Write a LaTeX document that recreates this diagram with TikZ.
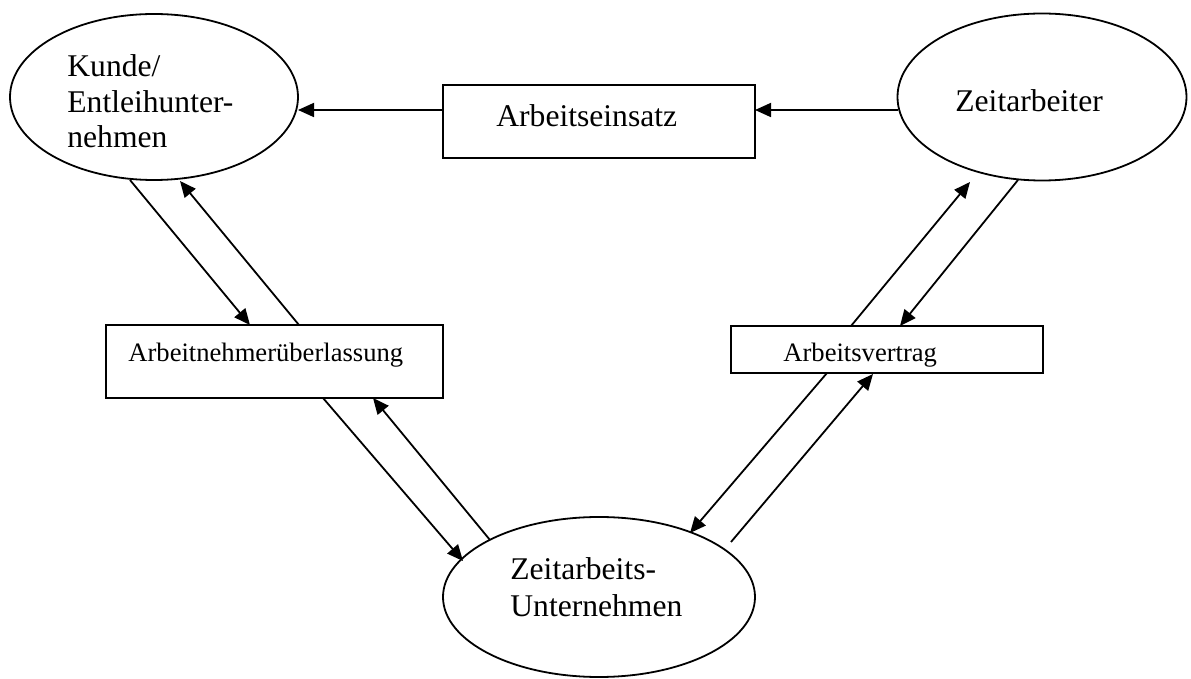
\documentclass[tikz,border=0pt]{standalone}
\usepackage{fontspec}
\setmainfont{Liberation Serif}
\usetikzlibrary{arrows.meta,shapes.geometric}
\begin{document}
\begin{tikzpicture}[x=0.5pt,y=-0.5pt,
  shape border/.style={draw=black,line width=0.9pt,inner sep=0pt},
  oval/.style={shape border,ellipse},
  boxnode/.style={shape border,rectangle},
  bigtext/.style={inner sep=0pt,anchor=base west,font=\fontsize{15.8}{17.75}\selectfont},
  smalltext/.style={inner sep=0pt,anchor=base west,font=\fontsize{13.3}{15}\selectfont},
  conn/.style={line width=0.9pt,-{Triangle[length=8pt,width=7pt]}}]
\useasboundingbox (0,0) rectangle (1191,679);
% ellipses
\node[oval,minimum width=144pt,minimum height=83pt] (kunde) at (154,97) {};
\node[oval,minimum width=144.5pt,minimum height=83.5pt] (zeit) at (1042,97) {};
\node[oval,minimum width=156pt,minimum height=80pt] (zu) at (599,597) {};
% boxes
\node[boxnode,minimum width=156pt,minimum height=36.5pt] (einsatz) at (599,121.5) {};
\node[boxnode,minimum width=168.5pt,minimum height=36.5pt] (anue) at (274.5,361.5) {};
\node[boxnode,minimum width=156pt,minimum height=23.5pt] (av) at (887,349.5) {};
% texts
\node[bigtext] (tk1) at (67,77) {Kunde/};
\node[bigtext] (tk2) at (67,113) {Entleihunter-};
\node[bigtext] (tk3) at (67,148) {nehmen};
\node[bigtext] (tz) at (955,112) {Zeitarbeiter};
\node[bigtext] (tzu1) at (510,580) {Zeitarbeits-};
\node[bigtext] (tzu2) at (510,617) {Unternehmen};
\node[bigtext] (te) at (496,127) {Arbeitseinsatz};
\node[smalltext] (ta) at (128,362) {Arbeitnehmerüberlassung};
\node[smalltext] (tv) at (783,362) {Arbeitsvertrag};
% connector end points
\coordinate (e1) at (443,110);
\coordinate (k1) at (298,110);
\coordinate (z1) at (898,110);
\coordinate (e2) at (755,110);
\coordinate (k2) at (130,180);
\coordinate (a1) at (250,325);
\coordinate (a2) at (299,325);
\coordinate (k3) at (180,181);
\coordinate (a3) at (323,398);
\coordinate (u1) at (463,561);
\coordinate (u2) at (490,540);
\coordinate (a4) at (373,398);
\coordinate (v1) at (851,326);
\coordinate (z2) at (970,182);
\coordinate (z3) at (1018,180);
\coordinate (v2) at (900,326);
\coordinate (v3) at (827,373);
\coordinate (u3) at (690,533);
\coordinate (u4) at (731,542);
\coordinate (v4) at (873,374);
% connectors
\draw[conn] (e1) -- (k1);
\draw[conn] (z1) -- (e2);
\draw[conn] (k2) -- (a1);
\draw[conn] (a2) -- (k3);
\draw[conn] (a3) -- (u1);
\draw[conn] (u2) -- (a4);
\draw[conn] (v1) -- (z2);
\draw[conn] (z3) -- (v2);
\draw[conn] (v3) -- (u3);
\draw[conn] (u4) -- (v4);
\end{tikzpicture}
\end{document}
